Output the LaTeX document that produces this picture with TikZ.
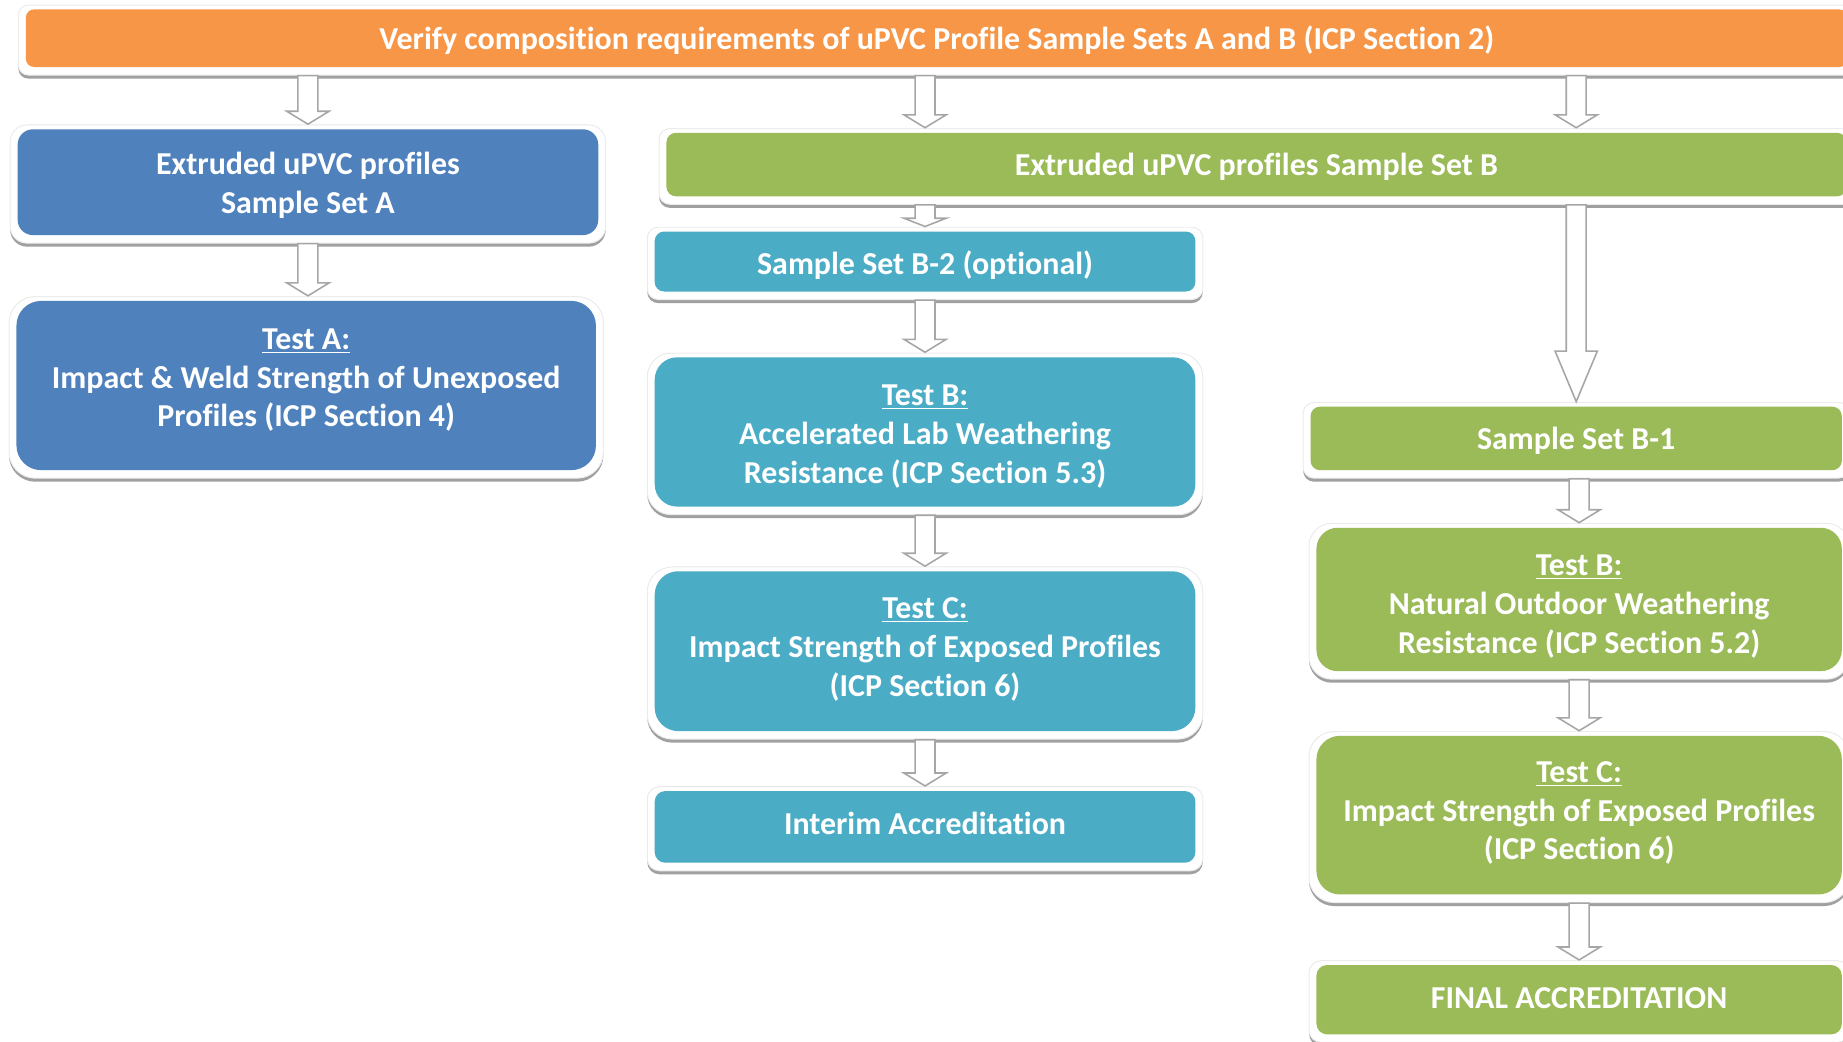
\documentclass[tikz,border=0pt]{standalone}
\usepackage{fontspec}
\setmainfont{Carlito}[Ligatures=NoCommon]
\usetikzlibrary{calc,backgrounds}
\definecolor{cOrange}{HTML}{F79646}
\definecolor{cBlue}{HTML}{4F81BD}
\definecolor{cGreen}{HTML}{9BBB59}
\definecolor{cTeal}{HTML}{4BACC6}
\definecolor{shadowc}{HTML}{A0A0A0}
\definecolor{platec}{HTML}{ECECEC}
\definecolor{arrowc}{HTML}{A6A6A6}
\newcommand\boxfont{\fontsize{16.3}{19.8}\selectfont\bfseries}
\newcommand\tx[2]{\raisebox{#1}[\height][\depth]{\begin{tabular}{@{}c@{}}#2\end{tabular}}}
\tikzset{
  box/.style={fill=#1, text=white, font=\boxfont, inner sep=0pt, draw=none},
  blockarr/.style={draw=arrowc, fill=white, line width=0.8pt, line join=miter},
}
\newcommand\drawplate[2]{%
  \fill[shadowc, rounded corners=#2] ([xshift=-3.6pt,yshift=2pt]#1.north west) rectangle ([xshift=3.6pt,yshift=-5.7pt]#1.south east);
  \filldraw[fill=white, draw=platec, line width=0.5pt, rounded corners=#2] ([xshift=-3.6pt,yshift=2pt]#1.north west) rectangle ([xshift=3.6pt,yshift=-3.9pt]#1.south east);
}
\newcommand\blockarrow[4][6.6pt]{%
  \draw[blockarr] let \p0=(#2), \p1=(#3.south), \p2=(#4.north) in
    (\x0-5.1pt,\y1-4.2pt) -- (\x0+5.1pt,\y1-4.2pt) -- (\x0+5.1pt,\y2+2.4pt+#1)
    -- (\x0+10.8pt,\y2+2.4pt+#1) -- (\x0,\y2+2.4pt) -- (\x0-10.8pt,\y2+2.4pt+#1)
    -- (\x0-5.1pt,\y2+2.4pt+#1) -- cycle;
}
\begin{document}
\begin{tikzpicture}[x=0.6pt,y=-0.6pt]
\useasboundingbox (0,0) rectangle (1568,886.5);
% nodes
\node[box=cOrange, minimum width=930pt, minimum height=29.4pt, rounded corners=4.2pt] (top) at (797,32.5)
  {\tx{-1.7pt}{Verify composition requirements of uPVC Profile Sample Sets A and B (ICP Section 2)}};
\node[box=cBlue, minimum width=296.4pt, minimum height=54pt, rounded corners=7.8pt] (A1) at (262,155)
  {\tx{-1.9pt}{Extruded uPVC profiles\\Sample Set A}};
\node[box=cBlue, minimum width=295.8pt, minimum height=86.4pt, rounded corners=12.6pt] (TA) at (260.5,328)
  {\tx{2.7pt}{\underline{Test A:}\\Impact \& Weld Strength of Unexposed\\Profiles (ICP Section 4)}};
\node[box=cGreen, minimum width=602.4pt, minimum height=32.4pt, rounded corners=4.8pt] (SetB) at (1069,140)
  {\tx{-1.7pt}{Extruded uPVC profiles Sample Set B}};
\node[box=cTeal, minimum width=276pt, minimum height=30.6pt, rounded corners=4.8pt] (B2) at (787,222.5)
  {\tx{-2.7pt}{Sample Set B-2 (optional)}};
\node[box=cTeal, minimum width=276pt, minimum height=76.2pt, rounded corners=11.4pt] (TBt) at (787,367.5)
  {\tx{-2.4pt}{\underline{Test B:}\\Accelerated Lab Weathering\\Resistance (ICP Section 5.3)}};
\node[box=cTeal, minimum width=276pt, minimum height=81.6pt, rounded corners=12pt] (TCt) at (787,554)
  {\tx{0.7pt}{\underline{Test C:}\\Impact Strength of Exposed Profiles\\(ICP Section 6)}};
\node[box=cTeal, minimum width=276pt, minimum height=36.6pt, rounded corners=5.4pt] (Int) at (787,703.5)
  {\tx{0.1pt}{Interim Accreditation}};
\node[box=cGreen, minimum width=271.2pt, minimum height=32.4pt, rounded corners=4.8pt] (B1) at (1341,373)
  {\tx{-1.6pt}{Sample Set B-1}};
\node[box=cGreen, minimum width=268.2pt, minimum height=73.2pt, rounded corners=10.8pt] (TBg) at (1343.5,510)
  {\tx{-3.6pt}{\underline{Test B:}\\Natural Outdoor Weathering\\Resistance (ICP Section 5.2)}};
\node[box=cGreen, minimum width=268.2pt, minimum height=81pt, rounded corners=12pt] (TCg) at (1343.5,693.5)
  {\tx{0.9pt}{\underline{Test C:}\\Impact Strength of Exposed Profiles\\(ICP Section 6)}};
\node[box=cGreen, minimum width=268.2pt, minimum height=35.4pt, rounded corners=5.4pt] (Fin) at (1343.5,850.5)
  {\tx{-0.5pt}{FINAL ACCREDITATION}};
% plates
\begin{pgfonlayer}{background}
\drawplate{top}{5pt}
\drawplate{A1}{8.6pt}
\drawplate{TA}{13.4pt}
\drawplate{SetB}{5.6pt}
\drawplate{B2}{5.6pt}
\drawplate{TBt}{12.2pt}
\drawplate{TCt}{12.8pt}
\drawplate{Int}{6.2pt}
\drawplate{B1}{5.6pt}
\drawplate{TBg}{11.6pt}
\drawplate{TCg}{12.8pt}
\drawplate{Fin}{6.2pt}
\end{pgfonlayer}
% arrows
\blockarrow{A1}{top}{A1}
\blockarrow{B2}{top}{SetB}
\blockarrow{B1}{top}{SetB}
\blockarrow{A1}{A1}{TA}
\blockarrow[4.2pt]{B2}{SetB}{B2}
\blockarrow[25.8pt]{B1}{SetB}{B1}
\blockarrow{B2}{B2}{TBt}
\blockarrow{B2}{TBt}{TCt}
\blockarrow{B2}{TCt}{Int}
\blockarrow{TBg}{B1}{TBg}
\blockarrow{TBg}{TBg}{TCg}
\blockarrow{TBg}{TCg}{Fin}
\end{tikzpicture}
\end{document}
